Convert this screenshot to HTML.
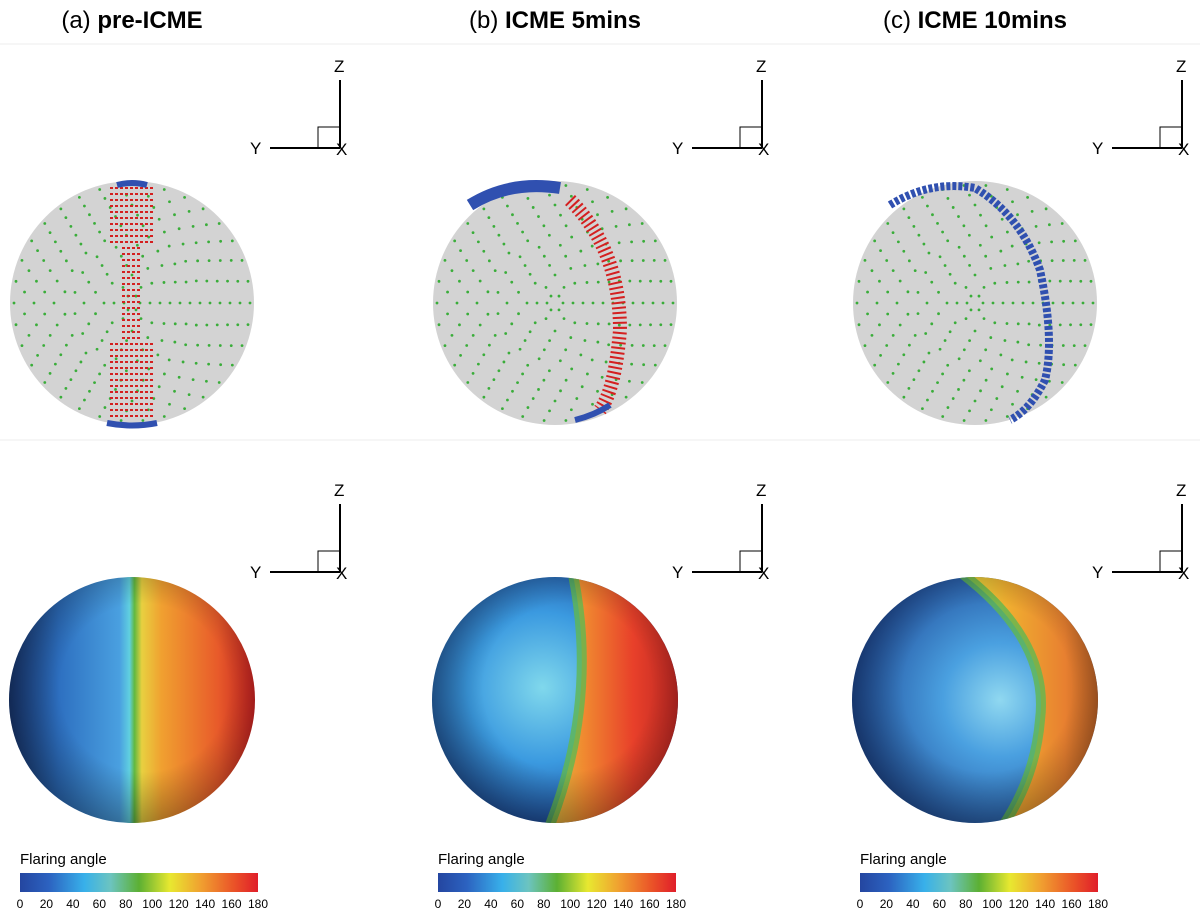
<!DOCTYPE html>
<html><head><meta charset="utf-8"><style>
body{margin:0;background:#fff;}
svg{display:block;font-family:"Liberation Sans",sans-serif;}
</style></head><body>
<svg id="fig" width="1200" height="912" viewBox="0 0 1200 912">
<defs>
<linearGradient id="cbar" x1="0" x2="1" y1="0" y2="0">
<stop offset="0" stop-color="#2446a0"/><stop offset="0.12" stop-color="#2c62c0"/>
<stop offset="0.27" stop-color="#38b0ea"/><stop offset="0.38" stop-color="#6cc4c0"/>
<stop offset="0.5" stop-color="#5cb033"/><stop offset="0.63" stop-color="#e8e830"/>
<stop offset="0.76" stop-color="#f0a030"/><stop offset="0.9" stop-color="#ea5228"/>
<stop offset="1" stop-color="#e01e2a"/></linearGradient>
<radialGradient id="shade" cx="0.55" cy="0.45" r="0.62">
<stop offset="0.55" stop-color="#000" stop-opacity="0"/><stop offset="1" stop-color="#000" stop-opacity="0.4"/></radialGradient>
<linearGradient id="sa" x1="0" x2="1"><stop offset="0" stop-color="#1a3a78"/><stop offset="0.2" stop-color="#2d6fc0"/><stop offset="0.45" stop-color="#4aa0e0"/><stop offset="0.49" stop-color="#60d0e0"/><stop offset="0.51" stop-color="#60b840"/><stop offset="0.54" stop-color="#e8d040"/><stop offset="0.62" stop-color="#f0a030"/><stop offset="0.85" stop-color="#e85a2a"/><stop offset="1" stop-color="#c02020"/></linearGradient>
<radialGradient id="blueB" cx="0.45" cy="0.45" r="0.6"><stop offset="0" stop-color="#80d8ec"/><stop offset="0.5" stop-color="#3b9ae0"/><stop offset="1" stop-color="#1a4090"/></radialGradient>
<radialGradient id="blueC" cx="0.6" cy="0.5" r="0.65"><stop offset="0" stop-color="#90d8f0"/><stop offset="0.35" stop-color="#4aa0e0"/><stop offset="1" stop-color="#1a4090"/></radialGradient>
<linearGradient id="redB" x1="0" x2="1"><stop offset="0" stop-color="#e0c040"/><stop offset="0.25" stop-color="#f08a30"/><stop offset="0.6" stop-color="#e8402a"/><stop offset="1" stop-color="#b02020"/></linearGradient>
<linearGradient id="redC" x1="0" x2="1"><stop offset="0" stop-color="#e8e040"/><stop offset="0.3" stop-color="#f0b030"/><stop offset="0.7" stop-color="#e88030"/><stop offset="1" stop-color="#a05020"/></linearGradient>
<clipPath id="clB"><circle cx="555" cy="700" r="123"/></clipPath>
<clipPath id="clC"><circle cx="975" cy="700" r="123"/></clipPath>
</defs>
<line x1="0" y1="44" x2="1200" y2="44" stroke="#eee"/>
<line x1="0" y1="440" x2="1200" y2="440" stroke="#eee"/>
<text x="132" y="28" font-size="24" text-anchor="middle">(a) <tspan font-weight="bold">pre-ICME</tspan></text>
<text x="555" y="28" font-size="24" text-anchor="middle">(b) <tspan font-weight="bold">ICME 5mins</tspan></text>
<text x="975" y="28" font-size="24" text-anchor="middle">(c) <tspan font-weight="bold">ICME 10mins</tspan></text>
<g id="top"></g><g id="bot"></g><g id="cbars"></g>
</svg>
<script>
const ticks=[0,20,40,60,80,100,120,140,160,180];
const cols=[{cx:132,ax:340,cb:20},{cx:555,ax:762,cb:438},{cx:975,ax:1182,cb:860}];
const NS='http://www.w3.org/2000/svg';
const svg=document.getElementById('fig');
function mk(t,a,p){const e=document.createElementNS(NS,t);for(const k in a)e.setAttribute(k,a[k]);(p||svg).appendChild(e);return e;}
cols.forEach((c,i)=>{
 [[148,'top'],[572,'bot']].forEach(([y,n])=>{
  const g=mk('g',{});
  
  
  mk('line',{x1:c.ax,y1:y-68,x2:c.ax,y2:y,stroke:'#000','stroke-width':2},g);
  mk('line',{x1:c.ax-70,y1:y,x2:c.ax,y2:y,stroke:'#000','stroke-width':2},g);
  mk('rect',{x:c.ax-22,y:y-21,width:22,height:21,fill:'none',stroke:'#000','stroke-width':1},g);
  const z=mk('text',{x:c.ax-6,y:y-76,'font-size':17},g);z.textContent='Z';
  const yy=mk('text',{x:c.ax-90,y:y+6,'font-size':17},g);yy.textContent='Y';
  const x=mk('text',{x:c.ax-4,y:y+7,'font-size':17},g);x.textContent='X';
 });
 const s=mk('g',{});
 
 
 const cy=303,r=122;
 mk('circle',{cx:c.cx,cy:cy,r:r,fill:'#d3d3d3'},s);
 for(let rr=8;rr<=r;rr+=10){const n=Math.max(6,Math.round(rr/3.5));for(let k=0;k<n;k++){const a=k/n*6.283;mk('circle',{cx:c.cx+rr*Math.cos(a),cy:cy+rr*Math.sin(a),r:1.4,fill:'#3aad3a'},s);}}
 if(i==0){for(let yv=cy-115;yv<cy+115;yv+=6){const w=yv<cy-60||yv>cy+40?22:10;mk('line',{x1:c.cx-w,y1:yv,x2:c.cx+w,y2:yv,stroke:'#d42020','stroke-width':2,'stroke-dasharray':'3 2'},s);}
  mk('path',{d:`M${c.cx-15} 185 Q${c.cx} 181 ${c.cx+15} 185`,stroke:'#3050b0','stroke-width':6,fill:'none'},s);
  mk('path',{d:`M${c.cx-25} 423 Q${c.cx} 428 ${c.cx+25} 423`,stroke:'#3050b0','stroke-width':6,fill:'none'},s);}
 if(i==1){mk('path',{d:`M470 205 Q510 180 560 188`,stroke:'#3050b0','stroke-width':12,fill:'none'},s);
  mk('path',{d:`M570 200 Q620 250 620 330 Q615 390 600 410`,stroke:'#d42020','stroke-width':14,fill:'none','stroke-dasharray':'2 3'},s);
  mk('path',{d:`M575 420 Q595 415 610 405`,stroke:'#3050b0','stroke-width':6,fill:'none'},s);}
 if(i==2){mk('path',{d:`M890 205 Q930 180 975 188 Q1020 215 1040 270 Q1055 340 1045 380 Q1030 410 1010 420`,stroke:'#3050b0','stroke-width':8,fill:'none','stroke-dasharray':'4 2'},s);}
 const b=mk('g',{});
 
 
 if(i==0){mk('circle',{cx:c.cx,cy:700,r:123,fill:'url(#sa)'},b);}
 if(i==1){const g2=mk('g',{'clip-path':'url(#clB)'},b);
  mk('rect',{x:430,y:575,width:250,height:250,fill:'url(#blueB)'},g2);
  mk('path',{d:'M572 570 Q600 700 548 830 L690 830 L690 570 Z',fill:'url(#redB)'},g2);
  mk('path',{d:'M572 570 Q600 700 548 830',stroke:'#60b850','stroke-width':10,fill:'none','stroke-opacity':0.8},g2);}
 if(i==2){const g2=mk('g',{'clip-path':'url(#clC)'},b);
  mk('rect',{x:850,y:575,width:250,height:250,fill:'url(#blueC)'},g2);
  mk('path',{d:'M960 572 Q1050 640 1040 720 Q1035 780 1000 830 L1110 830 L1110 572 Z',fill:'url(#redC)'},g2);
  mk('path',{d:'M960 572 Q1050 640 1040 720 Q1035 780 1000 830',stroke:'#60b850','stroke-width':10,fill:'none','stroke-opacity':0.8},g2);}
 mk('circle',{cx:c.cx,cy:700,r:123,fill:'url(#shade)'},b);
 const x0=c.cb,w=238;
 const cb=mk('g',{});
 
 
 const ti=mk('text',{x:x0,y:864,'font-size':15},cb);ti.textContent='Flaring angle';
 mk('rect',{x:x0,y:873,width:w,height:19,fill:'url(#cbar)'},cb);
 ticks.forEach(t=>{const tx=mk('text',{x:x0+t/180*w,y:908,'font-size':12,'text-anchor':'middle'},cb);
  
  
  tx.textContent=t;});
});
</script>
</body></html>
